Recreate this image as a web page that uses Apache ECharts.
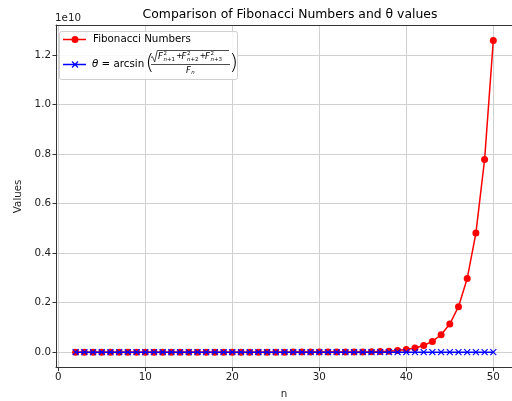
<!DOCTYPE html>
<html>
<head>
<meta charset="utf-8">
<script src="https://cdn.jsdelivr.net/npm/echarts@6/dist/echarts.min.js"></script>
<style>html,body{margin:0;padding:0;background:#fff}#c{width:512px;height:401px}</style>
</head>
<body>
<div id="c"></div>
<script>
const nValues = [2,3,4,5,6,7,8,9,10,11,12,13,14,15,16,17,18,19,20,21,22,23,24,25,26,27,28,29,30,31,32,33,34,35,36,37,38,39,40,41,42,43,44,45,46,47,48,49,50];
const fibValues = [1,2,3,5,8,13,21,34,55,89,144,233,377,610,987,1597,2584,4181,6765,10946,17711,28657,46368,75025,121393,196418,317811,514229,832040,1346269,2178309,3524578,5702887,9227465,14930352,24157817,39088169,63245986,102334155,165580141,267914296,433494437,701408733,1134903170,1836311903,2971215073,4807526976,7778742049,12586269025];
const thetaValues = [1.57,1.57,1.57,1.57,1.57,1.57,1.57,1.57,1.57,1.57,1.57,1.57,1.57,1.57,1.57,1.57,1.57,1.57,1.57,1.57,1.57,1.57,1.57,1.57,1.57,1.57,1.57,1.57,1.57,1.57,1.57,1.57,1.57,1.57,1.57,1.57,1.57,1.57,1.57,1.57,1.57,1.57,1.57,1.57,1.57,1.57,1.57,1.57,1.57];
const xTicks = [0,10,20,30,40,50];
const yTicks = [0,2e9,4e9,6e9,8e9,1e10,1.2e10];

const FONT = 'DejaVu Sans';
const FS = 10.3;
const chart = echarts.init(document.getElementById('c'), null, {renderer:'canvas'});

function t(x, y, text, size, opts) {
  return {type:'text', x:x, y:y, z:100, style:Object.assign({text:text, fontFamily:FONT, fontSize:size, fill:'#000', verticalAlign:'middle'}, opts||{})};
}
const RI = {i:{fontStyle:'italic', fontSize:5.5, fontFamily:FONT}};
function term(x, y, sub) {
  return [
    t(x, y, 'F', 8.5, {fontStyle:'italic'}),
    t(x+5.4, y-3.2, '2', 5.5, {}),
    t(x+5.4, y+3, sub, 5.5, {rich:RI}),
  ];
}
const legendEls = [
  {type:'rect', z:99, shape:{x:59.5, y:31.5, width:178, height:48, r:2}, style:{fill:'rgba(255,255,255,0.85)', stroke:'#d0d0d0', lineWidth:1}},
  {type:'line', z:100, shape:{x1:63, y1:39.5, x2:86, y2:39.5}, style:{stroke:'#ff0000', lineWidth:1.5}},
  {type:'circle', z:100, shape:{cx:75, cy:39.5, r:3.5}, style:{fill:'#ff0000'}},
  t(93, 39.5, 'Fibonacci Numbers', FS),
  {type:'line', z:100, shape:{x1:63, y1:64.5, x2:86, y2:64.5}, style:{stroke:'#0000ff', lineWidth:1.5}},
  {type:'line', z:100, shape:{x1:72, y1:61.5, x2:78, y2:67.5}, style:{stroke:'#0000ff', lineWidth:1.2}},
  {type:'line', z:100, shape:{x1:72, y1:67.5, x2:78, y2:61.5}, style:{stroke:'#0000ff', lineWidth:1.2}},
  t(92, 64.5, '{i|θ} = arcsin', FS, {rich:{i:{fontStyle:'italic', fontFamily:FONT, fontSize:FS}}}),
  t(145.5, 63.5, '(', 22, {fontWeight:'lighter'}),
  t(229.5, 63.5, ')', 22, {fontWeight:'lighter'}),
  {type:'polyline', z:100, shape:{points:[[151,57.5],[152.5,56.7],[154.7,62],[157.3,50.5],[229,50.5]]}, style:{stroke:'#000', lineWidth:0.7, fill:null}},
  ...term(158, 56.5, '{i|n}+1'),
  t(176.2, 56.5, '+', 7.5),
  ...term(181.5, 56.5, '{i|n}+2'),
  t(199.7, 56.5, '+', 7.5),
  ...term(205, 56.5, '{i|n}+3'),
  {type:'line', z:100, shape:{x1:151, y1:64.5, x2:230, y2:64.5}, style:{stroke:'#000', lineWidth:0.7}},
  t(186, 70.8, 'F', 8.5, {fontStyle:'italic'}),
  t(191.3, 72.8, 'n', 5.5, {fontStyle:'italic'}),
  t(55, 18.5, '1e10', FS, {fill:'#222'})
];

chart.setOption({
  animation:false,
  backgroundColor:'#fff',
  title:{text:'Comparison of Fibonacci Numbers and θ values', left:285, top:4, textAlign:'center',
    textStyle:{fontFamily:FONT, fontSize:12.4, fontWeight:'normal', color:'#000'}},
  grid:{left:56, right:0, top:25, bottom:33.3, show:false, containLabel:false, outerBoundsMode:'none'},
  xAxis:[{type:'value', min:-0.26, max:52.15,
    name:'n', nameLocation:'middle', nameGap:22, nameTextStyle:{fontFamily:FONT, fontSize:FS, color:'#222'},
    axisLine:{show:true, onZero:false, lineStyle:{color:'#333', width:1}},
    axisTick:{show:true, length:3.5, customValues:xTicks, lineStyle:{color:'#333'}},
    axisLabel:{customValues:xTicks, fontFamily:FONT, fontSize:FS, color:'#222', margin:5},
    splitLine:{show:true, lineStyle:{color:'#d0d0d0', width:1}}},
    {type:'value', position:'top', min:-0.26, max:52.15,
    axisLine:{show:true, onZero:false, lineStyle:{color:'#333', width:1}},
    axisTick:{show:false}, axisLabel:{show:false}, splitLine:{show:false}}],
  yAxis:{type:'value', min:-0.629e9, max:13.215e9,
    name:'Values', nameLocation:'middle', nameGap:29, nameRotate:90, nameTextStyle:{fontFamily:FONT, fontSize:FS, color:'#222'},
    axisLine:{show:true, onZero:false, lineStyle:{color:'#333', width:1}},
    axisTick:{show:true, length:3.5, customValues:yTicks, lineStyle:{color:'#333'}},
    axisLabel:{customValues:yTicks, fontFamily:FONT, fontSize:FS, color:'#222', margin:5,
      formatter:function(v){return (v/1e10).toFixed(1);}},
    splitLine:{show:true, lineStyle:{color:'#d0d0d0', width:1}}},
  series:[
    {name:'Fibonacci Numbers', type:'line', data:nValues.map((n,i)=>[n, fibValues[i]]),
      symbol:'circle', symbolSize:7, showAllSymbol:true,
      lineStyle:{color:'#ff0000', width:1.5}, itemStyle:{color:'#ff0000'}, z:2},
    {name:'theta', type:'line', data:nValues.map((n,i)=>[n, thetaValues[i]]),
      symbol:'path://M0,0L10,10M10,0L0,10', symbolSize:6, showAllSymbol:true,
      lineStyle:{color:'#0000ff', width:1.5}, itemStyle:{color:'none', borderColor:'#0000ff', borderWidth:1.2}, z:3}
  ],
  graphic:legendEls
});
</script>
</body>
</html>
